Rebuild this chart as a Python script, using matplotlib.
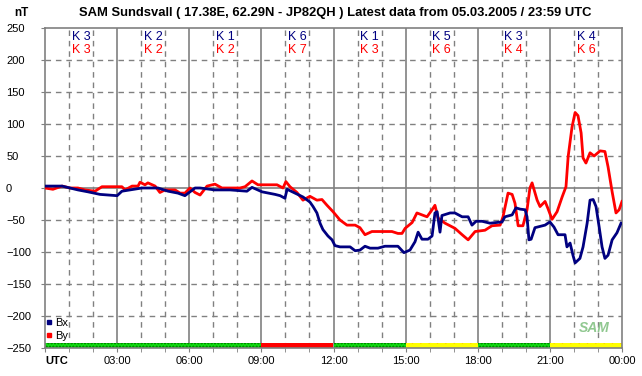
import matplotlib
matplotlib.use("Agg")
import matplotlib.pyplot as plt
from matplotlib.lines import Line2D

plt.rcParams['font.family'] = ['Liberation Sans', 'DejaVu Sans']
plt.rcParams['hatch.linewidth'] = 1.0

# Bx trace (hours UTC, nT)
bx_t = [0.0, 0.71, 1.37, 1.79, 2.29, 3.0, 3.2, 4.03, 4.7, 5.12, 5.53, 5.82, 6.24, 6.45,
        7.07, 7.7, 8.4, 8.61, 9.03, 9.57, 9.78, 9.98, 10.07, 10.4, 10.73, 11.02, 11.15,
        11.31, 11.44, 11.56, 11.77, 11.94, 12.06, 12.27, 12.69, 12.9, 13.1, 13.31, 13.52,
        13.85, 14.14, 14.68, 14.93, 15.18, 15.39, 15.52, 15.68, 15.93, 16.1, 16.22, 16.31,
        16.43, 16.51, 16.85, 17.05, 17.35, 17.6, 17.76, 17.93, 18.18, 18.51, 19.01, 19.13,
        19.43, 19.59, 19.76, 19.97, 20.05, 20.13, 20.22, 20.38, 20.8, 21.0, 21.17, 21.34,
        21.63, 21.71, 21.84, 21.96, 22.05, 22.25, 22.38, 22.55, 22.67, 22.8, 22.92, 23.05,
        23.17, 23.29, 23.42, 23.59, 23.79, 23.96]
bx_v = [3, 3, -3, -6, -10, -12, -5, 0, 0, -5, -8, -12, 0, 0,
        -3, -3, -5, 1, -6, -10, -12, -16, -2, -8, -14, -22, -29,
        -39, -55, -65, -75, -81, -90, -92, -92, -98, -97, -91, -94,
        -94, -91, -91, -101, -97, -84, -69, -80, -80, -75, -39, -37,
        -69, -43, -39, -39, -45, -45, -58, -52, -52, -55, -53, -45,
        -42, -31, -33, -34, -45, -81, -80, -62, -58, -53, -61, -73,
        -73, -92, -86, -105, -117, -110, -92, -55, -19, -18, -29, -61,
        -92, -110, -105, -81, -70, -55]

# By trace (hours UTC, nT)
by_t = [0.0, 0.33, 0.71, 1.04, 1.37, 1.66, 2.08, 2.37, 3.2, 3.33, 3.62, 3.87, 3.95, 4.16,
        4.28, 4.58, 4.78, 4.99, 5.41, 5.62, 5.82, 6.03, 6.24, 6.45, 6.74, 7.07, 7.36, 8.11,
        8.32, 8.61, 8.86, 9.65, 9.9, 10.02, 10.19, 10.48, 10.73, 11.02, 11.31, 11.52, 11.73,
        11.98, 12.27, 12.56, 12.9, 13.1, 13.31, 13.6, 14.43, 14.68, 14.85, 14.98, 15.27,
        15.47, 15.68, 15.89, 16.1, 16.22, 16.35, 16.64, 17.05, 17.35, 17.6, 17.89, 18.3,
        18.59, 18.93, 19.05, 19.26, 19.43, 19.55, 19.68, 19.88, 20.05, 20.17, 20.26, 20.47,
        20.59, 20.8, 20.92, 21.09, 21.3, 21.51, 21.67, 21.76, 21.92, 22.05, 22.17, 22.3,
        22.38, 22.5, 22.67, 22.84, 23.09, 23.29, 23.42, 23.59, 23.75, 23.88, 24.0]
by_v = [0, -2, 3, 0, 0, -3, -5, 2, 2, -3, 3, 3, 9, 5,
        8, 3, -7, -3, -3, -8, -8, 0, -7, -11, 3, 6, 0, 0,
        2, 11, 5, 5, 0, 10, 2, -7, -19, -13, -19, -18, -27,
        -37, -50, -58, -58, -62, -73, -68, -68, -71, -71, -63, -54,
        -39, -42, -45, -34, -27, -47, -55, -63, -73, -81, -68, -66,
        -59, -58, -45, -8, -10, -24, -59, -59, -34, 0, 8, -19,
        -29, -21, -32, -49, -37, -14, 2, 49, 95, 118, 113, 86,
        47, 39, 55, 50, 58, 57, 33, -6, -39, -34, -21]

# 3-hour K indices and activity bar
k_start = [0, 3, 6, 9, 12, 15, 18, 21]
k_bx = [3, 2, 1, 6, 1, 5, 3, 4]
k_by = [3, 2, 2, 7, 3, 6, 4, 6]
k_level = ['quiet', 'quiet', 'quiet', 'storm', 'quiet', 'active', 'quiet', 'active']

xtick_labels = ['UTC', '03:00', '06:00', '09:00', '12:00', '15:00', '18:00', '21:00', '00:00']

level_style = {
    'quiet': dict(facecolor='#10e010', edgecolor='#007000', hatch='.....'),
    'active': dict(facecolor='#ffff00', edgecolor='#ff0000', hatch='..'),
    'storm': dict(facecolor='#ff0000', edgecolor='#ff0000', hatch=None),
}

fig = plt.figure(figsize=(6.42, 3.76), dpi=100)
ax = fig.add_axes([45 / 642, 28 / 376, 577 / 642, 320 / 376])

ax.set_xlim(0, 24)
ax.set_ylim(-250, 250)
grid_c = '#808080'

# grid
for h in range(1, 24):
    if h % 3 == 0:
        ax.axvline(h, color=grid_c, lw=1.2, zorder=1)
    else:
        ax.axvline(h, color=grid_c, lw=1, ls=(0, (4, 3.5)), zorder=1)
for v in range(-200, 250, 50):
    if v == 0:
        ax.axhline(v, color=grid_c, lw=1.2, zorder=1)
    else:
        ax.axhline(v, color=grid_c, lw=1, ls=(0, (4, 3.5)), zorder=1)

# activity bar
for s, lev in zip(k_start, k_level):
    st = level_style[lev]
    ax.bar(s, 8, width=3, bottom=-250, align='edge', facecolor=st['facecolor'],
           edgecolor=st['edgecolor'], hatch=st['hatch'], linewidth=0, zorder=2)

ax.plot(bx_t, bx_v, color='#000080', lw=2, zorder=4)
ax.plot(by_t, by_v, color='#ff0000', lw=2, zorder=3)

for s, kx, ky in zip(k_start, k_bx, k_by):
    ax.text(s + 1.5, 236, f'K {kx}', color='#000080', ha='center', va='center', fontsize=9)
    ax.text(s + 1.5, 216, f'K {ky}', color='#ff0000', ha='center', va='center', fontsize=9)

for sp in ax.spines.values():
    sp.set_color(grid_c)
    sp.set_linewidth(1.2)

ax.set_xticks(range(0, 25, 3))
ax.set_xticks(range(0, 25), minor=True)
ax.set_xticklabels(xtick_labels, fontsize=8)
lbl = ax.get_xticklabels()
lbl[0].set_ha('left')
lbl[0].set_fontweight('bold')
ax.tick_params(axis='x', which='both', direction='out', length=3, color=grid_c, pad=3)

ax.set_yticks(range(-250, 251, 50))
ax.tick_params(axis='y', direction='out', length=3, color=grid_c, labelsize=8, pad=25)
for t in ax.get_yticklabels():
    t.set_ha('left')

handles = [Line2D([], [], marker='s', color='#000080', ls='none', markersize=3),
           Line2D([], [], marker='s', color='#ff0000', ls='none', markersize=3)]
ax.legend(handles, ['Bx', 'By'], loc='lower left', bbox_to_anchor=(0.0, 0.018),
          frameon=False, fontsize=8, handlelength=0.6, handletextpad=0.2,
          borderpad=0.1, borderaxespad=0, labelspacing=0.25)

ax.text(22.85, -218, 'SAM', color='#90c890', fontsize=10, fontstyle='italic',
        fontweight='bold', ha='center', va='center', zorder=5)

fig.text(14 / 642, 1 - 13 / 376, 'nT', fontsize=8.5, fontweight='bold', va='center')
fig.text(335 / 642, 1 - 13 / 376,
         'SAM Sundsvall ( 17.38E, 62.29N - JP82QH ) Latest data from 05.03.2005 / 23:59 UTC',
         fontsize=9.4, fontweight='bold', ha='center', va='center')

fig.savefig('out.png', dpi=100)
